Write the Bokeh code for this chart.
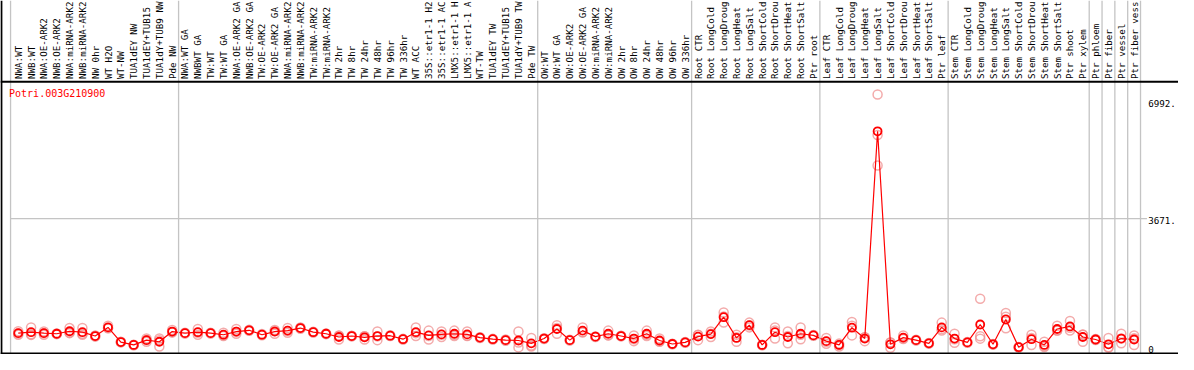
import numpy as np
from bokeh.plotting import figure
from bokeh.models import Span, Label, Range1d
from bokeh.embed import file_html
from bokeh.resources import INLINE
from bokeh.core.properties import value

# ---------------- data ----------------
gene_id = "Potri.003G210900"

# sample labels as visible in the header (the reference clips them at 14 characters)
group_nw = ["NWA:WT", "NWB:WT", "NWA:OE-ARK2", "NWB:OE-ARK2", "NWA:miRNA-ARK2",
            "NWB:miRNA-ARK2", "NW 0hr", "WT H2O", "WT-NW", "TUA1dEY NW",
            "TUA1dEY+TUB15", "TUA1dY+TUB9 NW", "Pde NW"]
group_tw = ["NWA:WT GA", "NWBWT GA", "TW:WT", "TW:WT GA", "NWA:OE-ARK2 GA",
            "NWB:OE-ARK2 GA", "TW:OE-ARK2", "TW:OE-ARK2 GA", "NWA:miRNA-ARK2",
            "NWB:miRNA-ARK2", "TW:miRNA-ARK2", "TW:miRNA-ARK2", "TW 2hr",
            "TW 8hr", "TW 24hr", "TW 48hr", "TW 96hr", "TW 336hr", "WT ACC",
            "35S::etr1-1 H2", "35S::etr1-1 AC", "LMX5::etr1-1 H",
            "LMX5::etr1-1 A", "WT-TW", "TUA1dEY TW", "TUA1dEY+TUB15",
            "TUA1dY+TUB9 TW", "Pde TW"]
group_ow = ["OW:WT", "OW:WT GA", "OW:OE-ARK2", "OW:OE-ARK2 GA", "OW:miRNA-ARK2",
            "OW:miRNA-ARK2", "OW 2hr", "OW 8hr", "OW 24hr", "OW 48hr",
            "OW 96hr", "OW 336hr"]
group_root = ["Root CTR", "Root LongCold", "Root LongDroug", "Root LongHeat",
              "Root LongSalt", "Root ShortCold", "Root ShortDrou",
              "Root ShortHeat", "Root ShortSalt", "Ptr root"]
group_leaf = ["Leaf CTR", "Leaf LongCold", "Leaf LongDroug", "Leaf LongHeat",
              "Leaf LongSalt", "Leaf ShortCold", "Leaf ShortDrou",
              "Leaf ShortHeat", "Leaf ShortSalt", "Ptr leaf"]
group_stem = ["Stem CTR", "Stem LongCold", "Stem LongDroug", "Stem LongHeat",
              "Stem LongSalt", "Stem ShortCold", "Stem ShortDrou",
              "Stem ShortHeat", "Stem ShortSalt", "Ptr shoot", "Ptr xylem"]
group_phloem = ["Ptr phloem"]
group_fiber = ["Ptr fiber"]
group_vessel = ["Ptr vessel"]
group_fv = ["Ptr fiber vess"]

groups = [group_nw, group_tw, group_ow, group_root, group_leaf, group_stem,
          group_phloem, group_fiber, group_vessel, group_fv]

means = [417, 444, 417, 399, 471, 444, 335, 580, 163, 82, 218, 172, 462,
         417, 444, 417, 372, 462, 498, 372, 462, 489, 562, 444, 399, 308, 335,
         299, 335, 344, 245, 444, 353, 381, 399, 381, 290, 245, 218, 208, 127,
         263, 535, 218, 489, 317, 399, 335, 263, 399, 208, 109, 154,
         317, 390, 870, 281, 644, 82, 444, 308, 399, 353,
         190, 82, 571, 263, 6153, 100, 290, 218, 127, 580,
         263, 154, 662, 100, 807, 18, 245, 82, 535, 607, 308,
         236, 100, 263, 236]

rep1 = [471, 580, 462, 410, 562, 562, 353, 625, 172, 90, 263, 263, 508,
        426, 535, 430, 426, 535, 510, 390, 508, 562, 580, 455, 410, 340, 345,
        330, 462, 355, 255, 580, 489, 462, 489, 462, 300, 255, 235, 462, 281,
        275, 644, 230, 580, 325, 489, 345, 353, 489, 263, 118, 163,
        370, 462, 1006, 372, 716, 90, 580, 462, 580, 365,
        281, 120, 734, 300, 7200, 150, 353, 230, 135, 716,
        399, 165, 1395, 110, 987, 25, 372, 172, 625, 761, 372,
        250, 281, 399, 353]

rep2 = [372, 385, 372, 399, 417, 399, 335, 553, 163, 82, 172, 36, 440,
        417, 372, 417, 335, 399, 498, 372, 399, 426, 562, 444, 399, 348, 335,
        331, 218, 344, 245, 417, 335, 308, 372, 335, 290, 245, 218, 150, 64,
        263, 399, 218, 444, 317, 353, 335, 190, 372, 172, 109, 154,
        363, 308, 716, 172, 580, 82, 263, 127, 372, 353,
        172, 90, 353, 299, 6050, 150, 270, 218, 127, 535,
        145, 154, 330, 100, 553, 18, 82, 50, 489, 489, 172,
        236, 19, 127, 82]

rep3 = [408, 367, 417, 388, 434, 371, 317, 562, 154, 74, 219, 217, 438,
        408, 425, 404, 355, 452, 486, 354, 479, 479, 544, 433, 388, 236, 325,
        236, 325, 333, 235, 335, 235, 373, 336, 346, 280, 235, 201, 12, 36,
        251, 562, 206, 443, 309, 355, 325, 246, 336, 189, 100, 145,
        218, 400, 888, 299, 636, 74, 489, 335, 245, 341,
        117, 36, 626, 190, 5180, 0, 247, 206, 119, 489,
        245, 143, 261, 90, 881, 11, 281, 24, 491, 571, 380,
        222, 0, 263, 273]

y_ticks = [0, 3671, 6992]
y_tick_labels = ["0", "3671.", "6992."]

# ---------------- build ----------------
labels = [s for g in groups for s in g]
n = len(labels)
idx = np.arange(n)

FONT = value("DejaVu Sans Mono")
FS = "9.2px"

p = figure(width=1178, height=354, output_backend="svg", toolbar_location=None,
           x_range=Range1d(-1.3846, 90.4615), y_range=Range1d(-190, 9870),
           x_axis_type=None, y_axis_type=None, min_border=0)
p.min_border_left = p.min_border_right = p.min_border_top = p.min_border_bottom = 0
p.grid.visible = False
p.outline_line_color = None
p.background_fill_color = "white"
p.border_fill_color = "white"

# vertical group separators (full height)
bounds = [-0.6] + list(np.cumsum([len(g) for g in groups]) - 0.5)
for b in bounds:
    p.add_layout(Span(location=float(b), dimension="height",
                      line_color="#c4c4c4", line_width=1.3))

# horizontal gridline at the middle tick
p.segment(x0=[-0.6], y0=[y_ticks[1]], x1=[n], y1=[y_ticks[1]],
          line_color="#c4c4c4", line_width=1.3)

# header separator, left and bottom borders
header_y = 7559
p.add_layout(Span(location=header_y, dimension="width", line_color="black", line_width=2))
p.add_layout(Span(location=-1.3846 + 0.07, dimension="height", line_color="black", line_width=2))
p.add_layout(Span(location=-160, dimension="width", line_color="black", line_width=2))

# header labels (rotated)
p.text(x=idx, y=[7640] * n, text=labels, angle=np.pi / 2,
       text_font=FONT, text_font_size=FS, text_color="black",
       text_align="left", text_baseline="middle")

# y labels on the right
p.text(x=[88.1] * len(y_ticks), y=y_ticks, text=y_tick_labels,
       text_font=FONT, text_font_size=FS, text_color="black",
       text_align="left", text_baseline="middle", y_offset=2)

# gene id
p.add_layout(Label(x=-0.72, y=7233, text=gene_id, text_color="#ff0000",
                   text_font="DejaVu Sans Mono", text_font_size="10px",
                   text_baseline="middle"))

# replicates
rx = np.concatenate([idx, idx, idx])
ry = rep1 + rep2 + rep3
p.scatter(x=rx, y=ry, marker="circle", size=9, fill_color=None,
          line_color="#ef8f8f", line_alpha=0.75, line_width=1.5)

# mean line and points
p.line(x=idx, y=means, line_color="#ff0000", line_width=1.2)
p.scatter(x=idx, y=means, marker="circle", size=8, fill_color=None,
          line_color="#ff0000", line_width=1.8)

open("out.html", "w").write(file_html(p, INLINE))
